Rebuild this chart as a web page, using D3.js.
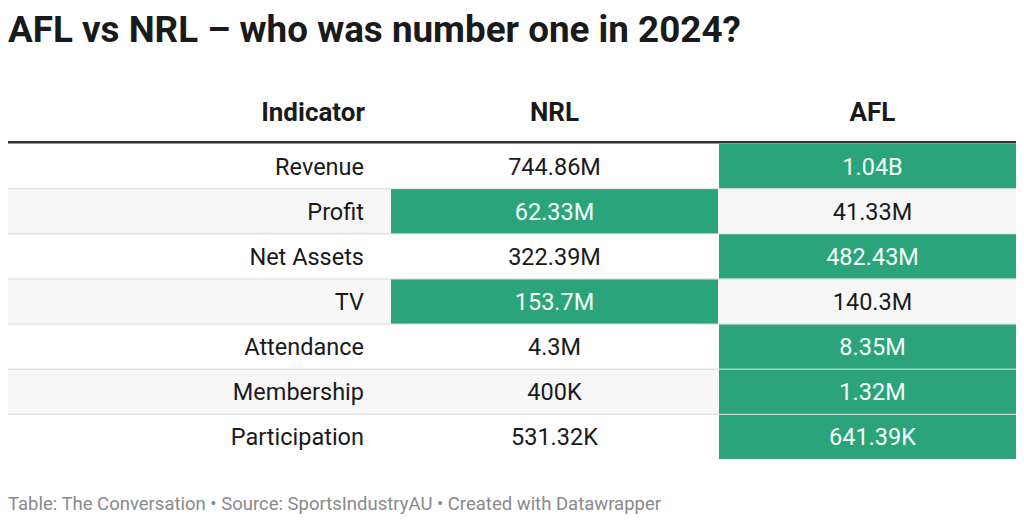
<!DOCTYPE html>
<html><head><meta charset="utf-8">
<script src="https://cdn.jsdelivr.net/npm/d3@7"></script>
<style>
body{margin:0;background:#fff;font-family:Roboto,"Noto Sans",sans-serif;}
</style></head>
<body><svg id="c" width="1024" height="523"></svg>
<script>
const title = "AFL vs NRL – who was number one in 2024?";
const columns = ["Indicator", "NRL", "AFL"];
const indicators = ["Revenue", "Profit", "Net Assets", "TV", "Attendance", "Membership", "Participation"];
const nrlValues = ["744.86M", "62.33M", "322.39M", "153.7M", "4.3M", "400K", "531.32K"];
const aflValues = ["1.04B", "41.33M", "482.43M", "140.3M", "8.35M", "1.32M", "641.39K"];
const winners = ["AFL", "NRL", "AFL", "NRL", "AFL", "AFL", "AFL"];
const footer = "Table: The Conversation • Source: SportsIndustryAU • Created with Datawrapper";

const svg = d3.select("#c");
const green = "#2ca47b";

svg.append("text").attr("x", 8).attr("y", 42)
  .attr("font-size", 36.8).attr("font-weight", 700).attr("fill", "#1a1a1a")
  .text(title);

const y = d3.scaleBand().domain(indicators).range([143.5, 459.5]).padding(0);
const colX = d3.scaleOrdinal().domain(columns).range([[8, 391], [391, 718], [719, 1016]]);
const centerX = c => { const [a, b] = colX(c); return c === "AFL" ? (a + b) / 2 + 5 : (a + b) / 2; };

// header
svg.append("text").attr("x", 365).attr("y", 121).attr("text-anchor", "end")
  .attr("font-size", 26).attr("font-weight", 700).attr("fill", "#1a1a1a").text(columns[0]);
columns.slice(1).forEach(c => {
  svg.append("text").attr("x", centerX(c)).attr("y", 121).attr("text-anchor", "middle")
    .attr("font-size", 26).attr("font-weight", 700).attr("fill", "#1a1a1a").text(c);
});

// stripes
const rows = svg.append("g");
indicators.forEach((ind, i) => {
  if (i % 2 === 1) {
    rows.append("rect").attr("x", 8).attr("y", y(ind)).attr("width", 1008).attr("height", y.bandwidth()).attr("fill", "#f7f7f7");
  }
  if (i > 0) {
    rows.append("line").attr("x1", 8).attr("x2", 1016).attr("y1", y(ind)).attr("y2", y(ind))
      .attr("stroke", "#e3e3e3").attr("stroke-width", 1.5);
  }
});

// cells
indicators.forEach((ind, i) => {
  const cy = y(ind) + y.bandwidth() / 2 + 8.5;
  svg.append("text").attr("x", 364).attr("y", cy).attr("text-anchor", "end")
    .attr("font-size", 23.5).attr("fill", "#1a1a1a").text(ind);
  [["NRL", nrlValues[i]], ["AFL", aflValues[i]]].forEach(([c, v]) => {
    const [a, b] = colX(c);
    const win = winners[i] === c;
    if (win) {
      svg.append("rect").attr("x", a).attr("y", y(ind) + 0.5).attr("width", b - a).attr("height", y.bandwidth() - 1).attr("fill", green);
    }
    svg.append("text").attr("x", centerX(c)).attr("y", cy).attr("text-anchor", "middle")
      .attr("font-size", 23.5).attr("fill", win ? "#f4fffa" : "#1a1a1a").text(v);
  });
});

// header rule
svg.append("rect").attr("x", 8).attr("y", 141).attr("width", 1008).attr("height", 2.5).attr("fill", "#333");

svg.append("text").attr("x", 8).attr("y", 510).attr("font-size", 18.5).attr("fill", "#8a8a8a").text(footer);
</script></body></html>
